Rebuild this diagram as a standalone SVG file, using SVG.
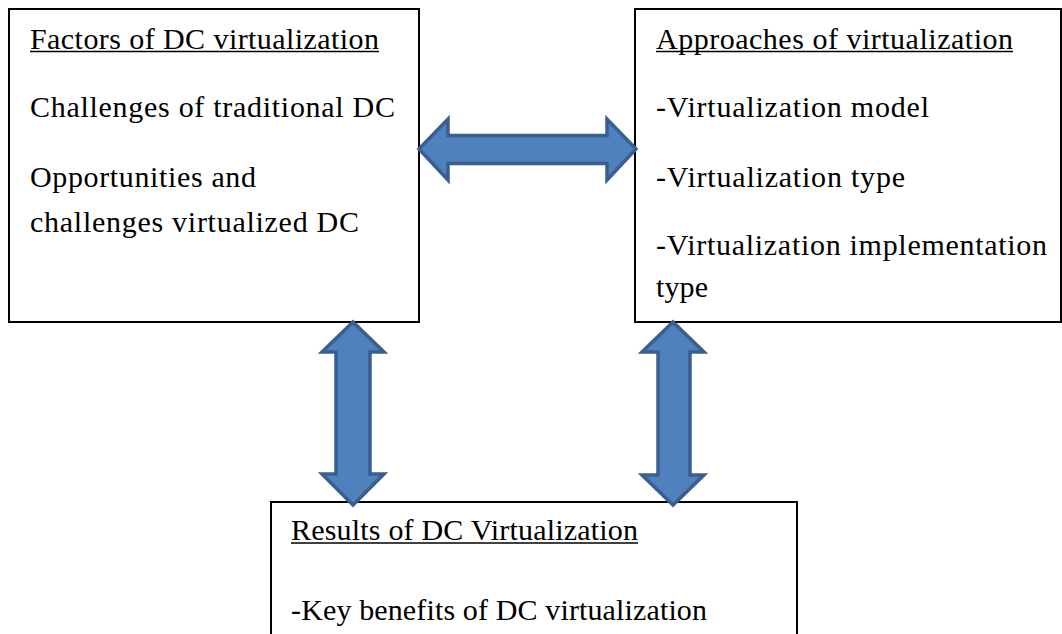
<svg xmlns="http://www.w3.org/2000/svg" width="1062" height="634" viewBox="0 0 1062 634">
<style>
.box{fill:#fff;stroke:#000;stroke-width:2}
.t{font-family:'Liberation Serif','Times New Roman',Times,serif;font-size:30px;fill:#000}
.u{stroke:#000;stroke-width:1.5}
.arr{fill:#4F81BD;stroke:#3A5F8E;stroke-width:3.5;stroke-linejoin:miter}
</style>
<rect width="1062" height="634" fill="#fff"/>
<g id="node-factors">
<rect class="box" x="9" y="9" width="410" height="313"/>
<text class="t" x="30" y="49" textLength="349" lengthAdjust="spacing">Factors of DC virtualization</text>
<line class="u" x1="30" y1="51.5" x2="379" y2="51.5"/>
<text class="t" x="30" y="117" textLength="365" lengthAdjust="spacing">Challenges of traditional DC</text>
<text class="t" x="30" y="187" textLength="226" lengthAdjust="spacing">Opportunities and</text>
<text class="t" x="30" y="232" textLength="329" lengthAdjust="spacing">challenges virtualized DC</text>
</g>
<g id="node-approaches">
<rect class="box" x="635" y="9" width="426" height="313"/>
<text class="t" x="656" y="49" textLength="357" lengthAdjust="spacing">Approaches of virtualization</text>
<line class="u" x1="656" y1="51.5" x2="1013" y2="51.5"/>
<text class="t" x="656" y="117" textLength="273" lengthAdjust="spacing">-Virtualization model</text>
<text class="t" x="656" y="187" textLength="249" lengthAdjust="spacing">-Virtualization type</text>
<text class="t" x="656" y="255" textLength="391" lengthAdjust="spacing">-Virtualization implementation</text>
<text class="t" x="656" y="297" textLength="52" lengthAdjust="spacing">type</text>
</g>
<g id="node-results">
<rect class="box" x="271" y="502" width="526" height="140"/>
<text class="t" x="291" y="540" textLength="347" lengthAdjust="spacing">Results of DC Virtualization</text>
<line class="u" x1="291" y1="543" x2="638" y2="543"/>
<text class="t" x="291" y="620" textLength="416" lengthAdjust="spacing">-Key benefits of DC virtualization</text>
</g>
<g id="connectors">
<path class="arr" d="M419,149 L448,119 L448,135.5 L607,135.5 L607,119 L636,149 L607,180 L607,163.5 L448,163.5 L448,180 Z"/>
<path class="arr" d="M353,322 L384,352 L370,352 L370,474 L384,474 L353,505 L322,474 L336,474 L336,352 L322,352 Z"/>
<path class="arr" d="M673,322 L704,352 L690,352 L690,475 L704,475 L673,505 L642,475 L658,475 L658,352 L642,352 Z"/>
</g>
</svg>
